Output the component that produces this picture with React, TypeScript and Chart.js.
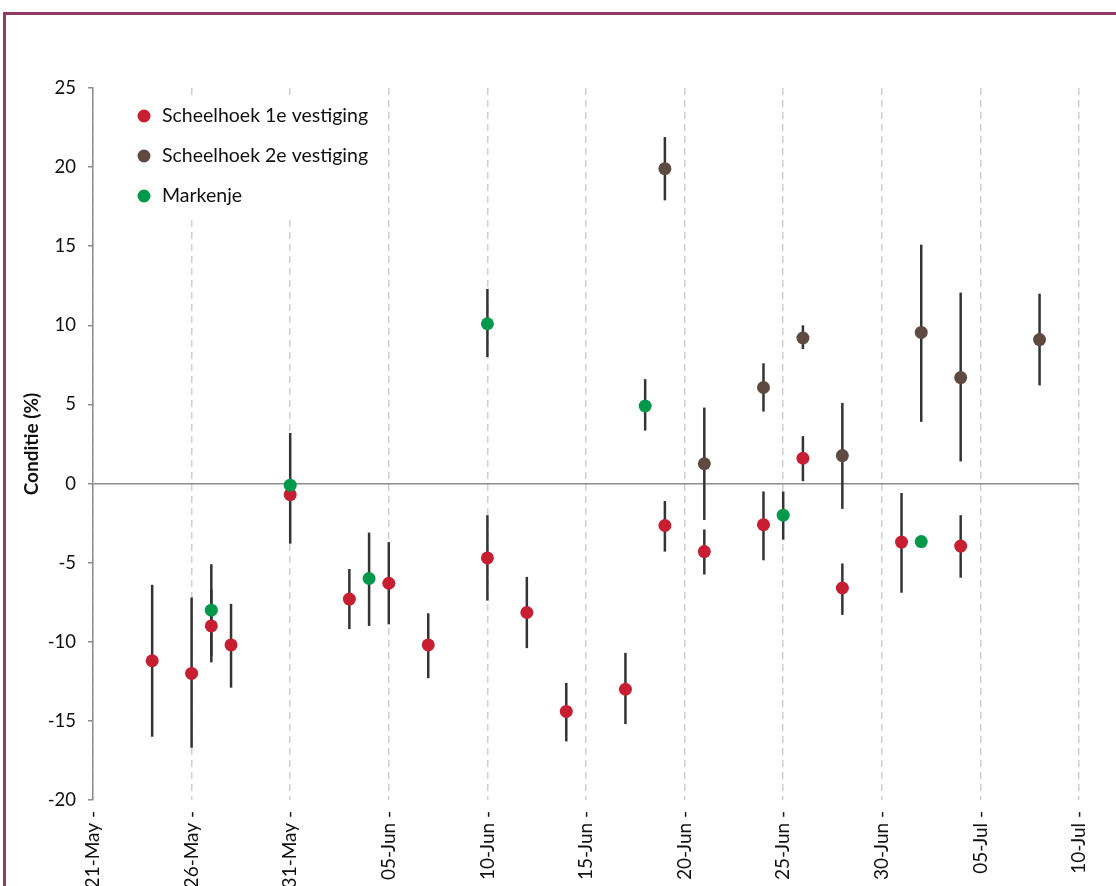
import React, { useEffect, useRef } from "react";
import { Chart, registerables } from "chart.js";

Chart.register(...registerables);

// ---------- data ----------
const xTickLabels = ["21-May", "26-May", "31-May", "05-Jun", "10-Jun", "15-Jun", "20-Jun", "25-Jun", "30-Jun", "05-Jul", "10-Jul"];
const yMin = -20;
const yMax = 25;
const yStep = 5;

const seriesNames = ["Scheelhoek 1e vestiging", "Scheelhoek 2e vestiging", "Markenje"];
const seriesColors = ["#c81e32", "#5e4a40", "#00994a"];

// Scheelhoek 1e vestiging
const s1Dates = ["24-May", "26-May", "27-May", "28-May", "31-May", "03-Jun", "05-Jun", "07-Jun", "10-Jun", "12-Jun", "14-Jun", "17-Jun", "19-Jun", "21-Jun", "24-Jun", "26-Jun", "28-Jun", "01-Jul", "04-Jul"];
const s1Values = [-11.2, -12.0, -9.0, -10.2, -0.7, -7.3, -6.3, -10.2, -4.7, -8.15, -14.4, -13.0, -2.65, -4.3, -2.6, 1.6, -6.6, -3.7, -3.95];
const s1Low = [-16.0, -16.7, -11.3, -12.9, -3.8, -9.2, -8.9, -12.3, -7.4, -10.4, -16.3, -15.2, -4.3, -5.75, -4.85, 0.15, -8.3, -6.9, -5.95];
const s1High = [-6.4, -7.2, -6.7, -7.6, 3.2, -5.4, -3.7, -8.2, -2.0, -5.9, -12.6, -10.7, -1.1, -2.9, -0.5, 3.0, -5.05, -0.6, -2.0];

// Scheelhoek 2e vestiging
const s2Dates = ["19-Jun", "21-Jun", "24-Jun", "26-Jun", "28-Jun", "02-Jul", "04-Jul", "08-Jul"];
const s2Values = [19.9, 1.25, 6.07, 9.2, 1.77, 9.55, 6.7, 9.1];
const s2Low = [17.9, -2.3, 4.55, 8.5, -1.6, 3.9, 1.4, 6.2];
const s2High = [21.9, 4.8, 7.6, 10.0, 5.1, 15.1, 12.07, 12.0];

// Markenje
const s3Dates = ["27-May", "31-May", "04-Jun", "10-Jun", "18-Jun", "25-Jun", "02-Jul"];
const s3Values = [-8.0, -0.1, -6.0, 10.1, 4.9, -2.0, -3.67];
const s3Low: (number | null)[] = [-10.9, null, -9.0, 8.0, 3.35, -3.55, null];
const s3High: (number | null)[] = [-5.1, null, -3.1, 12.3, 6.6, -0.5, null];

// ---------- helpers ----------
const MONTHS: Record<string, number> = { May: 5, Jun: 6, Jul: 7 };
function dayIndex(label: string): number {
  const [d, m] = label.split("-");
  return Math.round((Date.UTC(2000, MONTHS[m] - 1, Number(d)) - Date.UTC(2000, 4, 21)) / 86400000);
}

function buildPoints(dates: string[], values: number[], low: (number | null)[], high: (number | null)[]) {
  return dates.map((d, i) => ({ x: dayIndex(d), y: values[i], low: low[i], high: high[i] }));
}

const FONT = "Lato, 'Open Sans', sans-serif";

const errorBarPlugin = {
  id: "errorBars",
  beforeDatasetsDraw(chart: any) {
    const ctx = chart.ctx;
    const xs = chart.scales.x;
    const ys = chart.scales.y;
    ctx.save();
    ctx.strokeStyle = "#333333";
    ctx.lineWidth = 2.5;
    chart.data.datasets.forEach((ds: any) => {
      ds.data.forEach((p: any) => {
        if (p.low == null || p.high == null) return;
        const x = xs.getPixelForValue(p.x);
        ctx.beginPath();
        ctx.moveTo(x, ys.getPixelForValue(p.low));
        ctx.lineTo(x, ys.getPixelForValue(p.high));
        ctx.stroke();
      });
    });
    ctx.restore();
  },
};

const innerLegendPlugin = {
  id: "innerLegend",
  afterDraw(chart: any) {
    const ctx = chart.ctx;
    const area = chart.chartArea;
    const boxLeft = area.left + 36;
    const boxTop = area.top + 9;
    ctx.save();
    ctx.fillStyle = "#ffffff";
    ctx.fillRect(boxLeft, boxTop, 256, 118);
    ctx.font = `19.5px ${FONT}`;
    ctx.textBaseline = "middle";
    ctx.textAlign = "left";
    chart.data.datasets.forEach((ds: any, i: number) => {
      const cy = area.top + 28 + i * 40;
      ctx.beginPath();
      ctx.fillStyle = ds.backgroundColor;
      ctx.arc(boxLeft + 15, cy, 6.5, 0, Math.PI * 2);
      ctx.fill();
      ctx.fillStyle = "#111111";
      ctx.fillText(ds.label, boxLeft + 33, cy);
    });
    ctx.restore();
  },
};

export default function App() {
  const canvasRef = useRef<HTMLCanvasElement | null>(null);

  useEffect(() => {
    if (!canvasRef.current) return;
    const seriesData = [
      buildPoints(s1Dates, s1Values, s1Low, s1High),
      buildPoints(s2Dates, s2Values, s2Low, s2High),
      buildPoints(s3Dates, s3Values, s3Low, s3High),
    ];
    const orders = [2, 1, 0];
    const chart = new Chart(canvasRef.current, {
      type: "scatter",
      data: {
        datasets: seriesNames.map((name, i) => ({
          label: name,
          data: seriesData[i] as any,
          backgroundColor: seriesColors[i],
          borderColor: seriesColors[i],
          borderWidth: 0,
          pointRadius: 6.5,
          pointHoverRadius: 6.5,
          pointBorderWidth: 0,
          showLine: false,
          order: orders[i],
        })),
      },
      options: {
        animation: false,
        responsive: false,
        maintainAspectRatio: false,
        layout: { padding: { left: 0, top: 88, right: 37, bottom: 0 } },
        plugins: {
          legend: { display: false },
          tooltip: { enabled: false },
        },
        scales: {
          x: {
            type: "linear",
            min: 0,
            max: (xTickLabels.length - 1) * 5,
            afterBuildTicks(scale: any) {
              scale.ticks = xTickLabels.map((_, i) => ({ value: i * 5 }));
            },
            afterFit(scale: any) {
              scale.height = 86;
            },
            border: { display: false, dash: [7, 5] },
            grid: {
              color: "#cfcfcf",
              lineWidth: 1.5,
              drawTicks: false,
            },
            ticks: {
              autoSkip: false,
              maxRotation: 90,
              minRotation: 90,
              padding: 11,
              color: "#111111",
              font: { family: FONT, size: 19 },
              callback(value: any) {
                const idx = Math.round(Number(value) / 5);
                return xTickLabels[idx] !== undefined ? xTickLabels[idx] + " -" : "";
              },
            },
          },
          y: {
            type: "linear",
            min: yMin,
            max: yMax,
            afterFit(scale: any) {
              scale.width = 93;
            },
            border: { display: true, color: "#8c8c8c", width: 1.5 },
            grid: {
              color: (c: any) => (c.tick && c.tick.value === 0 ? "#8c8c8c" : "rgba(0,0,0,0)"),
              tickColor: "#8c8c8c",
              lineWidth: 1.5,
              tickLength: 5,
              drawTicks: true,
            },
            ticks: {
              stepSize: yStep,
              padding: 12,
              color: "#111111",
              font: { family: FONT, size: 18.5 },
            },
            title: {
              display: true,
              text: "Conditie (%)",
              color: "#111111",
              font: { family: FONT, size: 19, weight: "bold" },
              padding: { top: 20, bottom: 0 },
            },
          },
        },
      },
      plugins: [errorBarPlugin, innerLegendPlugin],
    });
    return () => chart.destroy();
  }, []);

  return (
    <div style={{ position: "absolute", left: 0, top: 0, width: 1116, height: 886, overflow: "hidden", background: "#ffffff" }}>
      <div
        style={{
          position: "absolute",
          left: 3,
          top: 12,
          width: 1113,
          height: 874,
          borderLeft: "3px solid #8e3c63",
          borderTop: "3px solid #8e3c63",
          boxSizing: "border-box",
        }}
      />
      <canvas ref={canvasRef} width={1116} height={886} style={{ position: "absolute", left: 0, top: 0, width: 1116, height: 886 }} />
    </div>
  );
}
